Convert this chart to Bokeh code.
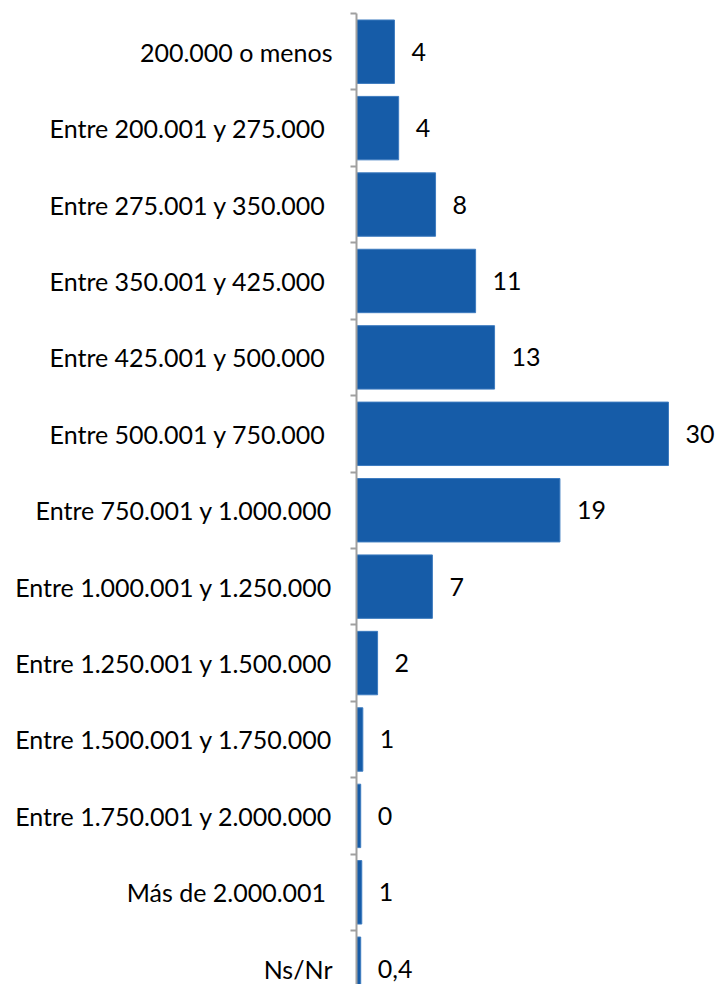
from bokeh.plotting import figure
from bokeh.models import Range1d, FixedTicker, ColumnDataSource
from bokeh.core.properties import value
from bokeh.embed import file_html
from bokeh.resources import INLINE

categories = [
    "200.000 o menos",
    "Entre 200.001 y 275.000 ",
    "Entre 275.001 y 350.000 ",
    "Entre 350.001 y 425.000 ",
    "Entre 425.001 y 500.000 ",
    "Entre 500.001 y 750.000 ",
    "Entre 750.001 y 1.000.000",
    "Entre 1.000.001 y 1.250.000",
    "Entre 1.250.001 y 1.500.000",
    "Entre 1.500.001 y 1.750.000",
    "Entre 1.750.001 y 2.000.000",
    "Más de 2.000.001 ",
    "Ns/Nr",
]
values = [3.6, 4.0, 7.5, 11.3, 13.1, 29.6, 19.3, 7.2, 2.0, 0.6, 0.4, 0.5, 0.4]
value_labels = ["4", "4", "8", "11", "13", "30", "19", "7", "2", "1", "0", "1", "0,4"]

FONT = "Lato"
px_per_unit = 10.54
left_border = 356
top_border = 13
W = 716
H = 984
band_px = 76.42
frame_w = W - left_border

pos = list(range(len(categories)))
src = ColumnDataSource(dict(y=pos, v=values, lab=value_labels))

p = figure(width=W, height=H, output_backend="svg", toolbar_location=None,
           x_range=Range1d(0, frame_w / px_per_unit),
           y_range=Range1d(-0.5 + (H - top_border) / band_px, -0.5),
           min_border_left=left_border, min_border_right=0,
           min_border_top=top_border, min_border_bottom=0)
p.outline_line_color = None
p.xgrid.visible = False
p.ygrid.visible = False
p.xaxis.visible = False

p.hbar(y="y", left=0, right="v", height=0.83, source=src,
       fill_color="#165ca8", line_color="#3d7bbf", line_width=1)

p.text(x="v", y="y", text="lab", source=src, x_offset=17,
       text_baseline="middle", text_align="left",
       text_font=value(FONT), text_font_size="25px", text_color="#000000")

ax = p.yaxis[0]
ax.ticker = FixedTicker(ticks=pos, minor_ticks=[i - 0.5 for i in pos])
ax.major_label_overrides = {i: c for i, c in zip(pos, categories)}
ax.major_label_text_font = FONT
ax.major_label_text_font_size = "25px"
ax.major_label_text_color = "#000000"
ax.major_label_standoff = 18
ax.major_tick_out = 0
ax.major_tick_in = 0
ax.minor_tick_out = 6
ax.minor_tick_in = 0
ax.minor_tick_line_color = "#a0a0a0"
ax.minor_tick_line_width = 2
ax.axis_line_color = "#a0a0a0"
ax.axis_line_width = 2

open("out.html", "w").write(file_html(p, INLINE))
